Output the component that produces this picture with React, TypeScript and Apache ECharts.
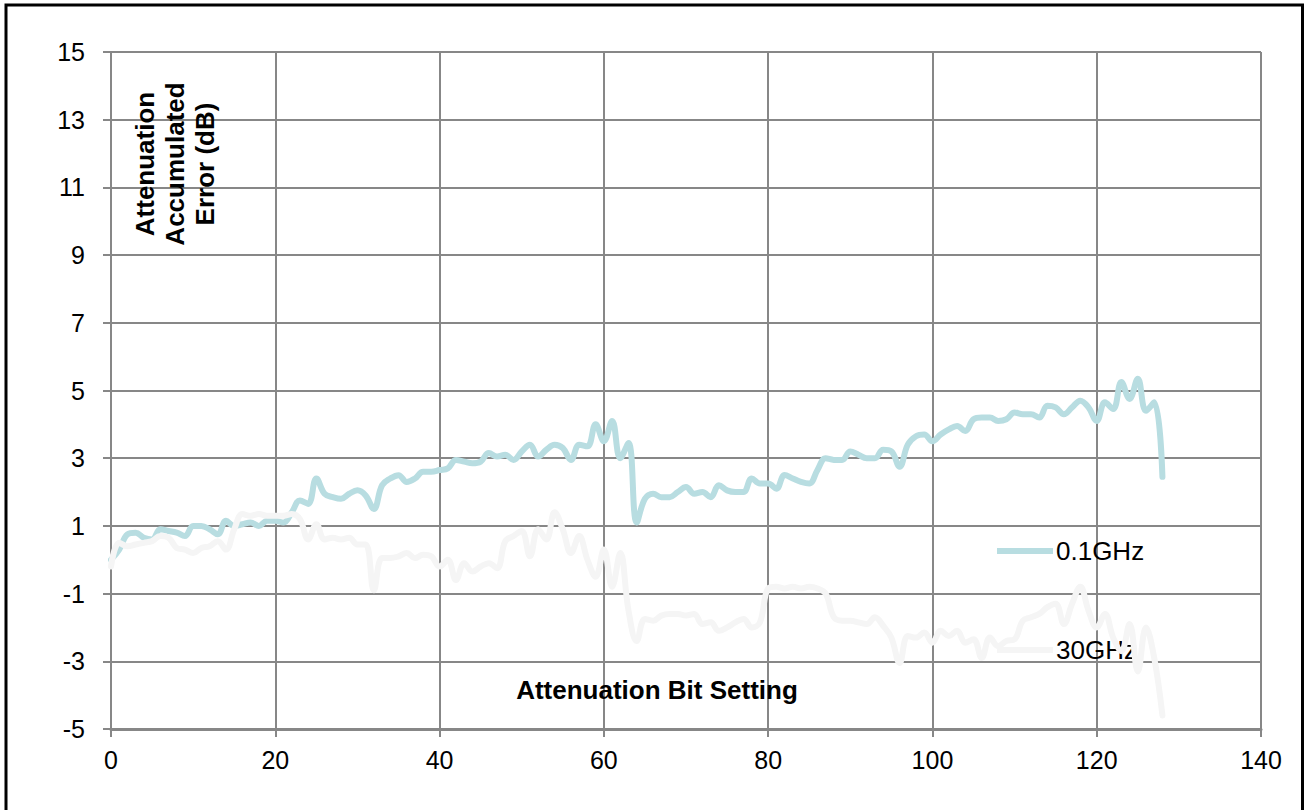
import React, { useEffect, useRef } from "react";
import * as echarts from "echarts";

const bitSettings: number[] = Array.from({ length: 129 }, (_, i) => i);

const err01GHz: number[] = [
  0.0, 0.3, 0.75, 0.8, 0.65, 0.6, 0.9, 0.85, 0.8, 0.7,
  1.0, 1.0, 0.9, 0.75, 1.15, 1.0, 1.05, 1.1, 1.0, 1.15,
  1.15, 1.1, 1.4, 1.75, 1.65, 2.4, 1.95, 1.85, 1.8, 1.95,
  2.05, 1.9, 1.5, 2.2, 2.4, 2.5, 2.3, 2.4, 2.6, 2.6,
  2.65, 2.7, 2.95, 2.9, 2.85, 2.9, 3.15, 3.05, 3.1, 2.95,
  3.2, 3.4, 3.05, 3.25, 3.4, 3.3, 2.95, 3.4, 3.35, 4.0,
  3.5, 4.1, 3.0, 3.45, 1.1, 1.8, 1.95, 1.85, 1.85, 2.0,
  2.15, 1.95, 2.0, 1.85, 2.2, 2.05, 2.0, 2.0, 2.4, 2.25,
  2.25, 2.1, 2.5, 2.4, 2.3, 2.25, 2.65, 3.0, 2.95, 2.95,
  3.2, 3.1, 3.0, 3.0, 3.25, 3.2, 2.75, 3.4, 3.65, 3.7,
  3.5, 3.7, 3.85, 3.95, 3.8, 4.15, 4.2, 4.2, 4.1, 4.15,
  4.35, 4.3, 4.3, 4.2, 4.55, 4.5, 4.3, 4.5, 4.7, 4.5,
  4.1, 4.65, 4.45, 5.25, 4.75, 5.35, 4.4, 4.65, 2.45,
];

const err30GHz: number[] = [
  -0.2, 0.5, 0.4, 0.45, 0.5, 0.55, 0.7, 0.65, 0.35, 0.3,
  0.2, 0.35, 0.4, 0.55, 0.3, 0.9, 1.35, 1.3, 1.35, 1.3,
  1.3, 1.3, 1.35, 1.2, 0.6, 1.05, 0.6, 0.65, 0.6, 0.65,
  0.45, 0.45, -0.9, 0.05, 0.05, 0.1, 0.2, 0.05, 0.15, 0.1,
  -0.2, 0.0, -0.6, -0.1, -0.35, -0.2, -0.1, -0.25, 0.55, 0.7,
  0.85, 0.1, 0.9, 0.6, 1.4, 0.9, 0.2, 0.7, 0.0, -0.5,
  0.3, -0.8, 0.2, -1.5, -2.4, -1.75, -1.8, -1.65, -1.6, -1.6,
  -1.65, -1.6, -1.9, -1.85, -2.1, -2.0, -1.85, -1.75, -2.0, -1.85,
  -0.85, -0.8, -0.85, -0.8, -0.85, -0.8, -0.85, -1.0, -1.7, -1.8,
  -1.8, -1.85, -1.9, -1.7, -1.95, -2.3, -3.05, -2.25, -2.3, -2.15,
  -2.45, -2.1, -2.25, -2.1, -2.45, -2.35, -2.9, -2.3, -2.55, -2.4,
  -2.35, -1.8, -1.7, -1.6, -1.4, -1.3, -1.9, -1.3, -0.8, -1.5,
  -2.0, -1.6, -2.3, -2.7, -1.9, -3.3, -2.0, -2.9, -4.6,
];

const seriesNames: string[] = ["0.1GHz", "30GHz"];
const xTitle = "Attenuation Bit Setting";
const yTitleLines: string[] = ["Attenuation", "Accumulated", "Error (dB)"];

export default function App() {
  const ref = useRef<HTMLDivElement>(null);
  useEffect(() => {
    if (!ref.current) return;
    const chart = echarts.init(ref.current, undefined, { renderer: "svg" });
    const font = "'Liberation Sans', Arial, sans-serif";
    const gridColor = "#878787";
    const tealColor = "#b8dde1";
    const greyColor = "#f5f5f5";
    const legendIcon = "path://M0,0 L56,0 L56,6 L0,6 Z";
    chart.setOption({
      animation: false,
      backgroundColor: "#ffffff",
      textStyle: { fontFamily: font },
      grid: { left: 111, right: 45, top: 52, bottom: 81, containLabel: false },
      xAxis: {
        type: "value",
        min: 0,
        max: 140,
        interval: 20,
        axisLine: { show: true, onZero: false, lineStyle: { color: gridColor, width: 3 } },
        axisTick: { show: true, length: 8, lineStyle: { color: gridColor, width: 2 } },
        axisLabel: { color: "#000", fontSize: 25, fontFamily: font, margin: 18 },
        splitLine: { show: true, lineStyle: { color: gridColor, width: 2 } },
      },
      yAxis: {
        type: "value",
        min: -5,
        max: 15,
        interval: 2,
        axisLine: { show: true, onZero: false, lineStyle: { color: gridColor, width: 2 } },
        axisTick: { show: true, length: 8, lineStyle: { color: gridColor, width: 2 } },
        axisLabel: { color: "#000", fontSize: 25, fontFamily: font, margin: 26 },
        splitLine: { show: true, lineStyle: { color: gridColor, width: 2 } },
      },
      legend: {
        orient: "vertical",
        left: 992,
        top: 533,
        padding: 5,
        itemWidth: 56,
        itemHeight: 6,
        itemGap: 73,
        textStyle: {
          color: "#000",
          fontSize: 26,
          lineHeight: 26,
          fontFamily: font,
          padding: [0, 0, 0, -2],
        },
        data: [
          { name: seriesNames[0], icon: legendIcon },
          { name: seriesNames[1], icon: legendIcon },
        ],
      },
      series: [
        {
          name: seriesNames[0],
          type: "line",
          data: bitSettings.map((x, i) => [x, err01GHz[i]]),
          symbol: "none",
          smooth: 0.4,
          lineStyle: { color: tealColor, width: 6, cap: "round", join: "round" },
          itemStyle: { color: tealColor },
          z: 3,
        },
        {
          name: seriesNames[1],
          type: "line",
          data: bitSettings.map((x, i) => [x, err30GHz[i]]),
          symbol: "none",
          smooth: 0.4,
          lineStyle: { color: greyColor, width: 6, cap: "round", join: "round" },
          itemStyle: { color: greyColor },
          z: 4,
        },
      ],
      graphic: [
        {
          type: "rect",
          shape: { x: 6, y: 5, width: 1296.5, height: 830 },
          style: { fill: "none", stroke: "#000", lineWidth: 3 },
          silent: true,
          z: 100,
        },
        {
          type: "text",
          x: 657,
          y: 690,
          style: {
            text: xTitle,
            fill: "#000",
            font: "bold 26px " + font,
            textAlign: "center",
            textVerticalAlign: "middle",
          },
          z: 100,
        },
        {
          type: "text",
          x: 175,
          y: 164,
          rotation: Math.PI / 2,
          style: {
            text: yTitleLines.join("\n"),
            fill: "#000",
            font: "bold 26px " + font,
            lineHeight: 30,
            align: "center",
            verticalAlign: "middle",
          },
          z: 100,
        },
      ],
    });
    return () => chart.dispose();
  }, []);
  return (
    <div
      ref={ref}
      style={{ position: "fixed", left: 0, top: 0, width: 1306, height: 810 }}
    />
  );
}
